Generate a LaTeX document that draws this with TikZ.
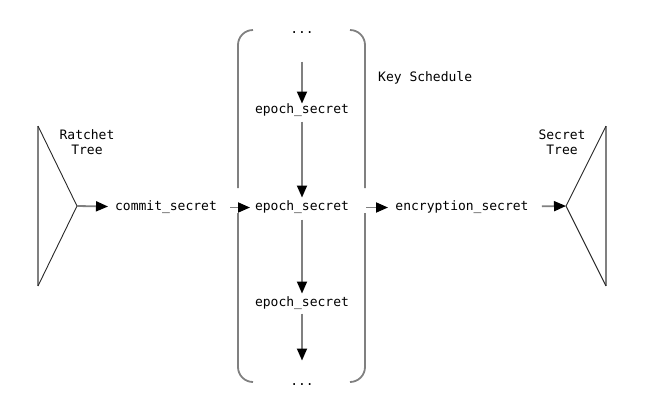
\documentclass[tikz,border=0pt]{standalone}
\usepackage{fontspec}
\setmonofont{DejaVu Sans Mono}
\usetikzlibrary{arrows.meta}
\definecolor{lgray}{RGB}{128,128,128}
\definecolor{dline}{RGB}{40,40,40}
\tikzset{
  lbl/.style={font=\ttfamily\fontsize{13}{15}\selectfont, inner sep=0pt, text height=9pt, text depth=3pt, yshift=-1.5pt},
  arr/.style={draw=lgray, line width=1.8pt, -{Triangle[length=12pt,width=10pt,color=black]}},
  brk/.style={draw=lgray, line width=1.8pt, rounded corners=15pt},
  trivert/.style={draw=lgray, line width=1.8pt},
  tridiag/.style={draw=dline, line width=0.9pt}
}
\begin{document}
\begin{tikzpicture}[x=1pt,y=-1pt]
\useasboundingbox (0,0) rectangle (662,400);
% Ratchet tree
\coordinate (rtTop) at (38,126);
\coordinate (rtBot) at (38,286);
\coordinate (rtApex) at (77,206);
\draw[trivert] (rtTop) -- (rtBot);
\draw[tridiag] (rtTop) -- (rtApex) -- (rtBot);
\node[lbl, align=center] (rt) at (87,150) {Ratchet\\Tree};
% Secret tree
\coordinate (stTop) at (606,126);
\coordinate (stBot) at (606,286);
\coordinate (stApex) at (566,206);
\draw[trivert] (stTop) -- (stBot);
\draw[tridiag] (stTop) -- (stApex) -- (stBot);
\node[lbl, align=center] (st) at (562,150) {Secret\\Tree};
% bracket
\draw[brk] (253,30) -- (238,30) -- (238,188);
\draw[brk] (238,213) -- (238,382) -- (253,382);
\draw[brk] (350,30) -- (365,30) -- (365,188);
\draw[brk] (365,213) -- (365,382) -- (350,382);
% texts
\node[lbl] (cs) at (166,206) {commit\_secret};
\node[lbl] (e0) at (302,29) {...};
\node[lbl] (e1) at (302,109) {epoch\_secret};
\node[lbl] (e2) at (302,206) {epoch\_secret};
\node[lbl] (e3) at (302,302) {epoch\_secret};
\node[lbl] (e4) at (302,381) {...};
\node[lbl] (enc) at (462,206) {encryption\_secret};
\node[lbl, anchor=west] (ks) at (378,77) {Key Schedule};
% arrows
\draw[arr, shorten >=58pt] (rtApex) -- (cs.center);
\draw[arr, shorten <=64pt, shorten >=52pt] (cs.center) -- (e2.center);
\draw[arr, shorten <=64pt, shorten >=74pt] (e2.center) -- (enc.center);
\draw[arr, shorten <=80pt] (enc.center) -- (stApex);
\draw[arr, shorten <=31pt, shorten >=7pt] (e0.center) -- (e1.center);
\draw[arr, shorten <=11pt, shorten >=10pt] (e1.center) -- (e2.center);
\draw[arr, shorten <=12pt, shorten >=10pt] (e2.center) -- (e3.center);
\draw[arr, shorten <=10pt, shorten >=22pt] (e3.center) -- (e4.center);
\end{tikzpicture}
\end{document}
